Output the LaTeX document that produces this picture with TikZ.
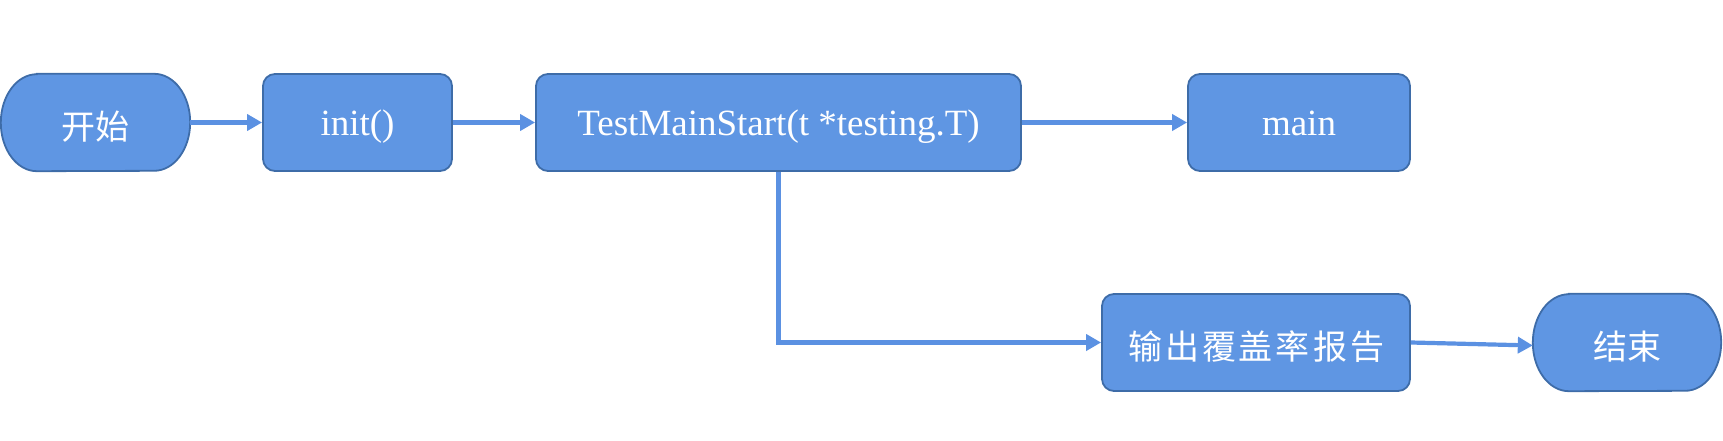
\documentclass[tikz,border=0pt]{standalone}
\usepackage{fontspec}
\setmainfont{Liberation Serif}
\newfontfamily\cjk{Noto Sans CJK SC}
\usetikzlibrary{arrows.meta,backgrounds}
\definecolor{boxfill}{RGB}{95,150,227}
\definecolor{boxline}{RGB}{62,108,168}
\definecolor{arrowc}{RGB}{91,145,226}
\newcommand{\cg}{\hspace{3pt}}
\tikzset{
  box/.style={draw=boxline, fill=boxfill, line width=1.8pt, rounded corners=12pt,
    minimum height=97pt, inner sep=0pt, text=white, text height=30pt, text depth=5pt,
    font=\fontsize{37}{40}\selectfont},
  cjkbox/.style={box, text height=38pt, text depth=4pt, font=\cjk\fontsize{34}{40}\selectfont},
  termnode/.style={minimum height=97pt, inner sep=0pt, text=white,
    text height=38pt, text depth=4pt, font=\cjk\fontsize{34}{40}\selectfont},
  termshape/.style={draw=boxline, fill=boxfill, line width=1.8pt},
  flow/.style={draw=arrowc, line width=4.2pt, -{Triangle[length=15pt,width=16pt]}},
}
\begin{document}
\begin{tikzpicture}[x=1pt,y=1pt]
\useasboundingbox (0,0) rectangle (1723,440);
% nodes
\node[termnode, minimum width=189pt] (s) at (95.5,317.5) {开始};
\node[box, minimum width=189pt] (init) at (357.5,317.5) {init()};
\node[box, minimum width=485pt] (tms) at (778.5,317.5) {TestMainStart(t *testing.T)};
\node[box, minimum width=222pt] (main) at (1299,317.5) {main};
\node[cjkbox, minimum width=308pt] (rep) at (1256,97.5) {输\cg 出\cg 覆\cg 盖\cg 率\cg 报\cg 告};
\node[termnode, minimum width=188pt] (e) at (1627,97.5) {结束};
% terminal shapes
\begin{pgfonlayer}{background}
\path[termshape] ([xshift=36pt]s.north west) -- ([xshift=-36pt]s.north east)
  arc[start angle=90, end angle=-90, x radius=36pt, y radius=48.5pt]
  -- ([xshift=36pt]s.south west)
  arc[start angle=270, end angle=90, x radius=36pt, y radius=48.5pt] -- cycle;
\path[termshape] ([xshift=36pt]e.north west) -- ([xshift=-36pt]e.north east)
  arc[start angle=90, end angle=-90, x radius=36pt, y radius=48.5pt]
  -- ([xshift=36pt]e.south west)
  arc[start angle=270, end angle=90, x radius=36pt, y radius=48.5pt] -- cycle;
\end{pgfonlayer}
% connectors
\draw[flow] (s.east) -- (init.west);
\draw[flow] (init.east) -- (tms.west);
\draw[flow] (tms.east) -- (main.west);
\draw[flow] (tms.south) |- (rep.west);
\draw[flow] (rep.east) -- ([yshift=-3pt]e.west);
\end{tikzpicture}
\end{document}
